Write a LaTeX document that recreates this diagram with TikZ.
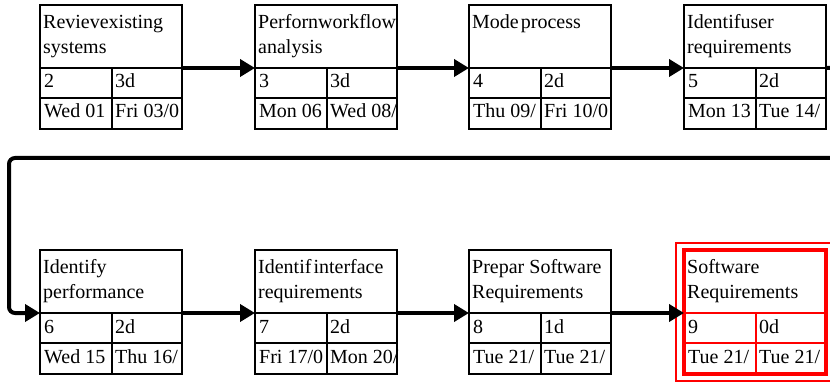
\documentclass[tikz,border=0pt]{standalone}
\usepackage{fontspec}
\setmainfont{Liberation Serif}
\usetikzlibrary{arrows.meta}
\newcommand\taskfont{\fontsize{20}{25}\selectfont}
\tikzset{
  taskframe/.style={draw=black, line width=2pt, minimum width=142pt, minimum height=124pt, inner sep=0pt, outer sep=0pt, anchor=north west},
  taskframered/.style={draw=red, line width=3.5pt, minimum width=142pt, minimum height=124pt, inner sep=0pt, outer sep=0pt, anchor=north west},
  cellline/.style={draw=black, line width=1.7pt},
  celllinered/.style={draw=red, line width=1.3pt},
  celltext/.style={anchor=base west, inner sep=0pt, font=\taskfont},
  titletext/.style={anchor=north west, inner sep=0pt, align=left, font=\taskfont},
  link/.style={line width=4pt, -{Triangle[length=15pt,width=17pt]}},
  highlight/.style={draw=red, line width=1.5pt},
}
% #1 name, #2 X, #3 Y, #4 title, #5 id, #6 duration, #7 start, #8 finish, #9 style suffix
\newcommand\taskbox[9]{%
  \node[taskframe#9] (#1) at (#2,#3) {};
  \draw[cellline#9] (#2,#3+63) -- (#2+142,#3+63);
  \draw[cellline#9] (#2,#3+93) -- (#2+142,#3+93);
  \draw[cellline#9] (#2+72,#3+63) -- (#2+72,#3+124);
  \node[titletext] (#1title) at (#2+3,#3+5.5) {\strut #4};
  \node[celltext] (#1id) at (#2+4,#3+83) {#5};
  \node[celltext] (#1dur) at (#2+75,#3+83) {#6};
  \node[celltext] (#1start) at (#2+4,#3+113) {#7};
  \node[celltext] (#1finish) at (#2+75,#3+113) {#8};
  \coordinate (#1in) at (#2,#3+63);
  \coordinate (#1out) at (#2+142,#3+63);
}
\begin{document}
\begin{tikzpicture}[x=1pt,y=-1pt]
\clip (0,0) rectangle (830,382);
\fill[white] (0,0) rectangle (830,382);

\taskbox{t1}{40}{5}{Revievexisting\\systems}{2}{3d}{Wed 01}{Fri 03/0}{}
\taskbox{t2}{255}{5}{Perfornworkflow\\analysis}{3}{3d}{Mon 06}{Wed 08/}{}
\taskbox{t3}{469}{5}{Mode\kern2pt process}{4}{2d}{Thu 09/}{Fri 10/0}{}
\taskbox{t4}{684}{5}{Identifuser\\requirements}{5}{2d}{Mon 13}{Tue 14/}{}

\taskbox{t5}{40}{250}{Identify\\performance}{6}{2d}{Wed 15}{Thu 16/}{}
\taskbox{t6}{255}{250}{Identif\kern2pt interface\\requirements}{7}{2d}{Fri 17/0}{Mon 20/}{}
\taskbox{t7}{469}{250}{Prepar\kern5pt Software\\Requirements}{8}{1d}{Tue 21/}{Tue 21/}{}
\taskbox{t8}{684}{250}{Software\\Requirements}{9}{0d}{Tue 21/}{Tue 21/}{red}

\coordinate (hlnw) at (676,243);
\coordinate (hlse) at (845,381);
\draw[highlight] (hlnw) rectangle (hlse);

\draw[link] (t1out) -- (t2in);
\draw[link] (t2out) -- (t3in);
\draw[link] (t3out) -- (t4in);
\draw[link, rounded corners=6pt] (t4out) -- (845,68) -- (845,158) -- (9,158) -- (9,313) -- (t5in);
\draw[link] (t5out) -- (t6in);
\draw[link] (t6out) -- (t7in);
\draw[link] (t7out) -- (t8in);
\end{tikzpicture}
\end{document}
